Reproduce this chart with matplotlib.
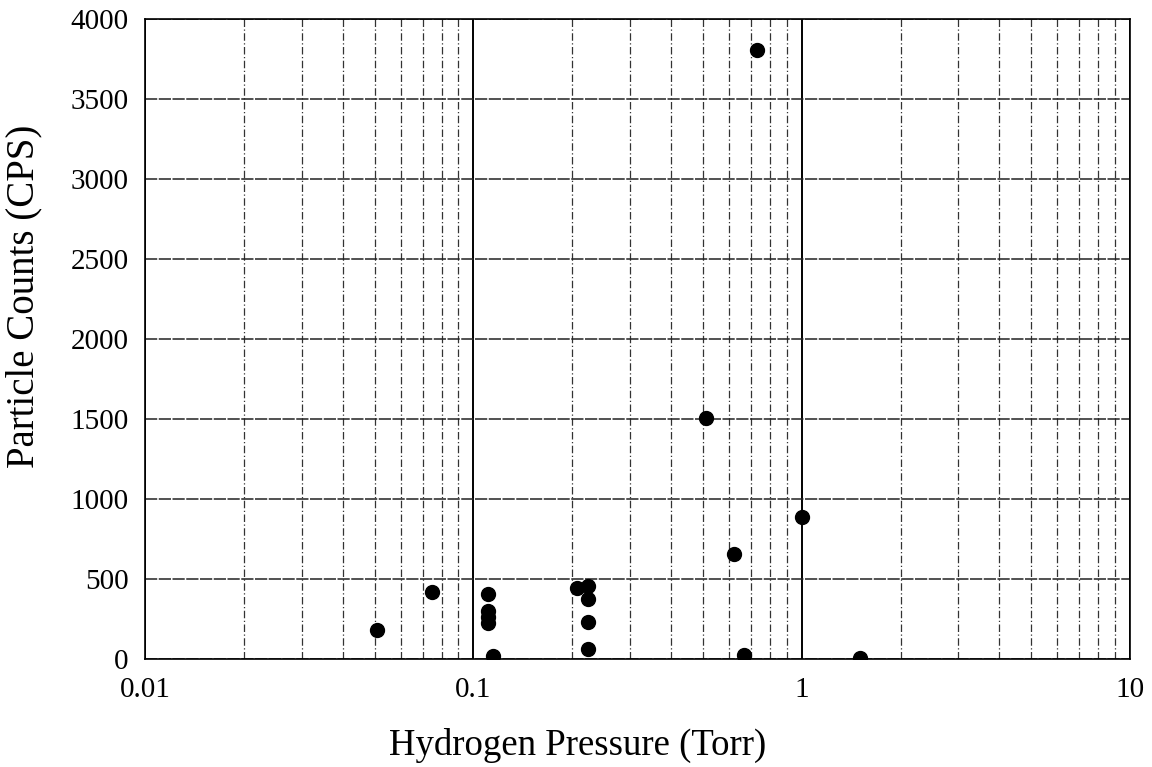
import numpy as np
import matplotlib.pyplot as plt
from matplotlib.ticker import FixedLocator, LogLocator, NullFormatter

plt.rcParams['font.family'] = ['Liberation Serif', 'DejaVu Serif']

# hydrogen pressure (Torr) and particle counts (CPS)
pressure = [0.051, 0.075, 0.111, 0.111, 0.111, 0.111, 0.115,
            0.207, 0.223, 0.223, 0.223, 0.223,
            0.512, 0.622, 0.668, 0.731, 1.0, 1.50]
counts = [180, 420, 405, 300, 260, 225, 20,
          444, 456, 375, 231, 62,
          1506, 656, 25, 3806, 887, 5]

fig = plt.figure(figsize=(11.52, 7.67), dpi=100)
ax = fig.add_axes([0.126, 0.141, 0.855, 0.834])

ax.set_xscale('log')
ax.set_xlim(0.01, 10)
ax.set_ylim(0, 4000)
ax.yaxis.set_major_locator(FixedLocator(np.arange(0, 4001, 500)))
ax.xaxis.set_major_locator(FixedLocator([0.01, 0.1, 1, 10]))
ax.set_xticklabels(['0.01', '0.1', '1', '10'])
ax.xaxis.set_minor_locator(LogLocator(base=10, subs=np.arange(2, 10)))
ax.xaxis.set_minor_formatter(NullFormatter())

ax.grid(True, which='major', axis='x', color='black', lw=1.4)
ax.grid(True, which='minor', axis='x', color='#333333', lw=0.9, ls=(0, (6, 2, 1, 2)))
ax.grid(True, which='major', axis='y', color='#222222', lw=1.1, ls=(0, (8, 1)))
ax.set_axisbelow(True)

ax.plot(pressure, counts, 'o', color='black', ms=10, zorder=3)

ax.tick_params(which='both', length=0, labelsize=21)
ax.tick_params(axis='y', pad=12)
ax.tick_params(axis='x', pad=13)
for s in ax.spines.values():
    s.set_linewidth(1.2)

ax.set_xlabel('Hydrogen Pressure (Torr)', fontsize=26.5)
ax.set_ylabel('Particle Counts (CPS)', fontsize=28)
ax.xaxis.set_label_coords(0.439, -0.108)
ax.yaxis.set_label_coords(-0.104, 0.566)

fig.savefig('out.png', dpi=100)
